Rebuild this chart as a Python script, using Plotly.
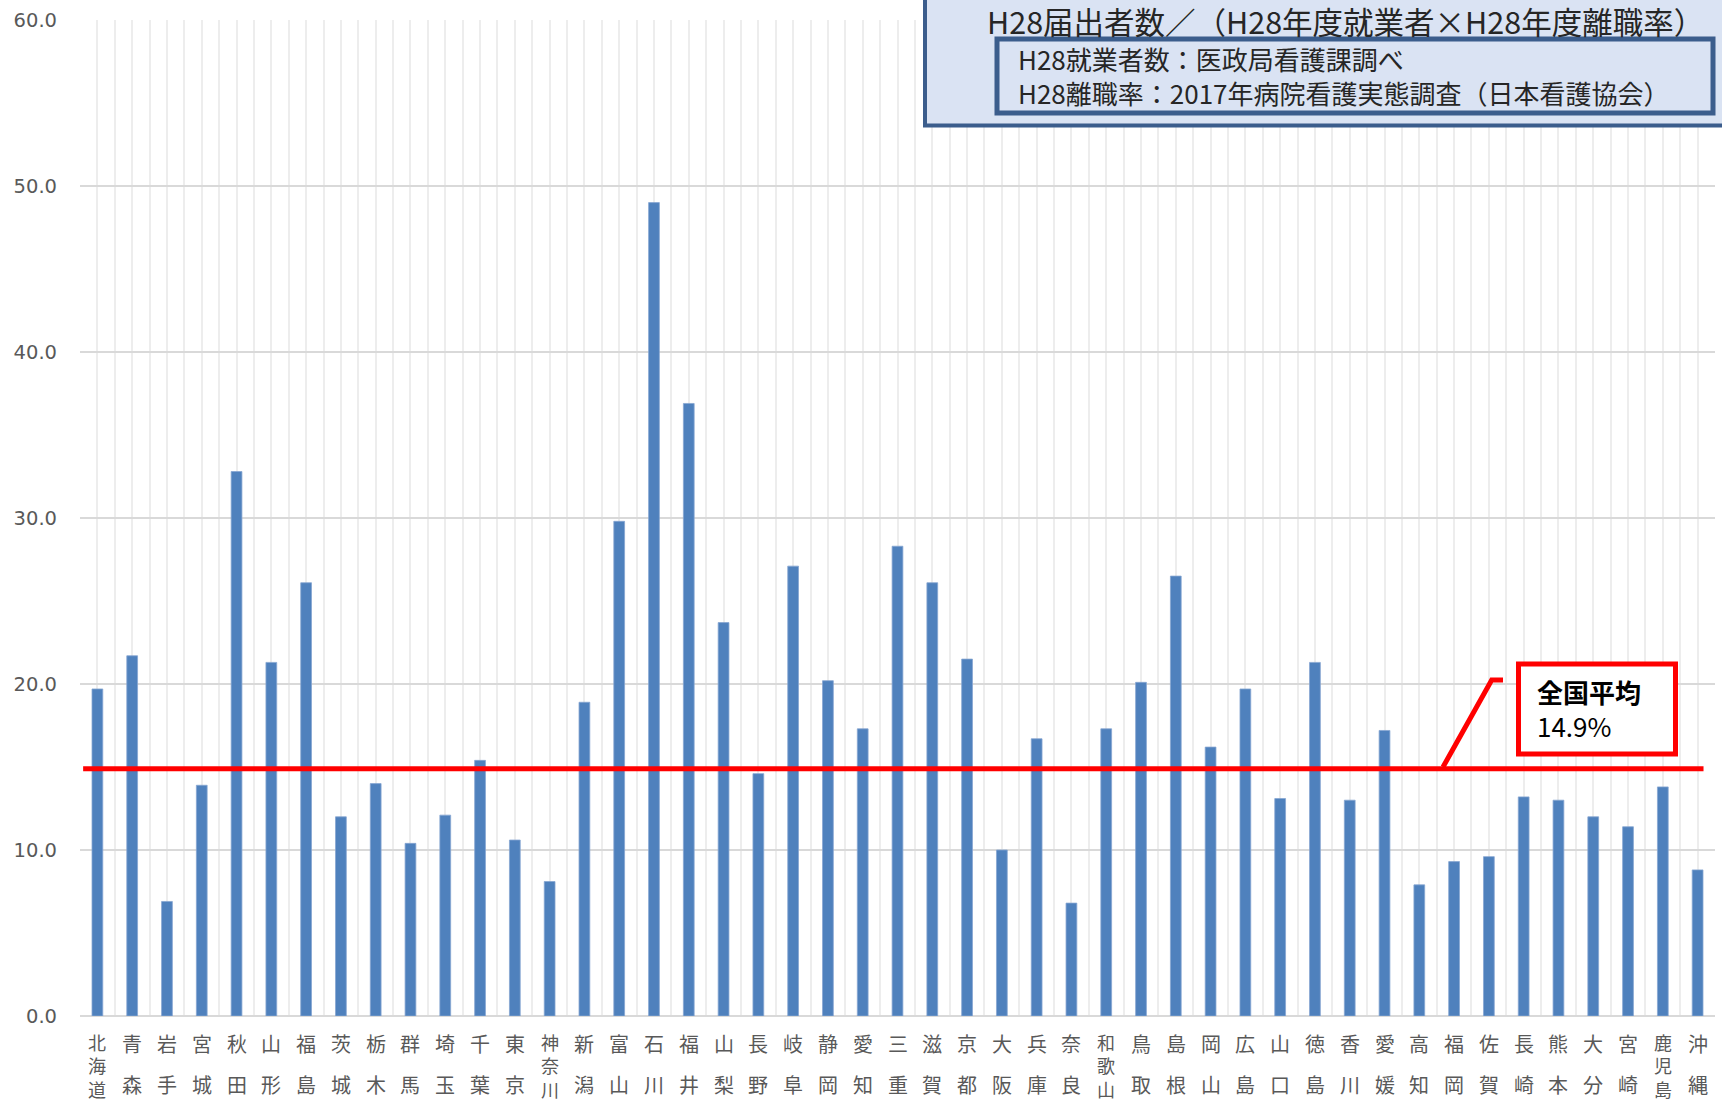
import plotly.graph_objects as go

# ---------------- data ----------------
prefectures = [
    "北海道", "青森", "岩手", "宮城", "秋田", "山形", "福島", "茨城", "栃木", "群馬",
    "埼玉", "千葉", "東京", "神奈川", "新潟", "富山", "石川", "福井", "山梨", "長野",
    "岐阜", "静岡", "愛知", "三重", "滋賀", "京都", "大阪", "兵庫", "奈良", "和歌山",
    "鳥取", "島根", "岡山", "広島", "山口", "徳島", "香川", "愛媛", "高知", "福岡",
    "佐賀", "長崎", "熊本", "大分", "宮崎", "鹿児島", "沖縄",
]
values = [
    19.7, 21.7, 6.9, 13.9, 32.8, 21.3, 26.1, 12.0, 14.0, 10.4,
    12.1, 15.4, 10.6, 8.1, 18.9, 29.8, 49.0, 36.9, 23.7, 14.6,
    27.1, 20.2, 17.3, 28.3, 26.1, 21.5, 10.0, 16.7, 6.8, 17.3,
    20.1, 26.5, 16.2, 19.7, 13.1, 21.3, 13.0, 17.2, 7.9, 9.3,
    9.6, 13.2, 13.0, 12.0, 11.4, 13.8, 8.8,
]
national_avg = 14.9
y_ticks = [0, 10, 20, 30, 40, 50, 60]

title_text = "H28届出者数／（H28年度就業者×H28年度離職率）"
source_lines = ["H28就業者数：医政局看護課調べ", "H28離職率：2017年病院看護実態調査（日本看護協会）"]
avg_label = "全国平均"
avg_value_text = "14.9%"

# ---------------- figure ----------------
W, H = 1722, 1103
ML, MR, MT, MB = 80, 7, 20, 87
PW, PH = W - ML - MR, H - MT - MB

def px_x(p):
    return (p - ML) / PW

def px_y(p):
    return (H - MB - p) / PH

n = len(prefectures)
xs = list(range(n))

fig = go.Figure()
fig.add_trace(go.Bar(
    x=xs, y=values, width=0.31,
    marker=dict(color="#4F81BD", line=dict(color="#86A6D2", width=0.8)),
    hoverinfo="skip", showlegend=False,
))

GRAY_TXT = "#595959"
JP = "Noto Sans CJK JP"

annotations = []
# category labels, stacked vertically
for i, name in enumerate(prefectures):
    if len(name) == 3:
        annotations.append(dict(
            x=i, xref="x", y=0, yref="paper", yanchor="middle", xanchor="center",
            yshift=-49.5, text="<br>".join(name), showarrow=False,
            font=dict(family=JP, size=18, color=GRAY_TXT),
        ))
    else:
        for ch, off in zip(name, [27.5, 68]):
            annotations.append(dict(
                x=i, xref="x", y=0, yref="paper", yanchor="middle", xanchor="center",
                yshift=-off, text=ch, showarrow=False,
                font=dict(family=JP, size=20, color=GRAY_TXT),
            ))

# header box texts
annotations.append(dict(
    x=px_x(1345), xref="paper", y=px_y(21), yref="paper",
    xanchor="center", yanchor="middle", text=title_text, showarrow=False,
    font=dict(family=JP, size=30.5, color="#262626"),
))
annotations.append(dict(
    x=px_x(1016), xref="paper", y=px_y(75), yref="paper",
    xanchor="left", yanchor="middle", align="left",
    text="<br>".join(source_lines), showarrow=False,
    font=dict(family=JP, size=26, color="#262626"),
))
# national average callout text
annotations.append(dict(
    x=px_x(1535), xref="paper", y=px_y(709), yref="paper",
    xanchor="left", yanchor="middle", align="left",
    text="<b>" + avg_label + "</b><br>" + avg_value_text, showarrow=False,
    font=dict(family=JP, size=26, color="#000000"),
))

shapes = [
    # outer header box
    dict(type="rect", xref="paper", yref="paper",
         x0=px_x(925), x1=px_x(1760), y0=px_y(125.5), y1=px_y(-20),
         fillcolor="#DAE3F3", line=dict(color="#3B5D8C", width=4), layer="above"),
    # inner header box
    dict(type="rect", xref="paper", yref="paper",
         x0=px_x(997), x1=px_x(1713), y0=px_y(113), y1=px_y(39),
         fillcolor="#DAE3F3", line=dict(color="#3B5D8C", width=5), layer="above"),
    # national average line
    dict(type="line", xref="x", yref="y",
         x0=-0.41, x1=46.17, y0=national_avg, y1=national_avg,
         line=dict(color="#FF0000", width=5), layer="above"),
    # callout leader
    dict(type="path", xref="paper", yref="paper",
         path="M {:.5f},{:.5f} L {:.5f},{:.5f} L {:.5f},{:.5f}".format(
             px_x(1443), px_y(767), px_x(1491.7), px_y(680), px_x(1503), px_y(680)),
         line=dict(color="#FF0000", width=5), layer="above"),
    # callout box
    dict(type="rect", xref="paper", yref="paper",
         x0=px_x(1518.5), x1=px_x(1675.5), y0=px_y(754), y1=px_y(664),
         fillcolor="#FFFFFF", line=dict(color="#FF0000", width=5), layer="above"),
]

fig.update_layout(
    width=W, height=H,
    margin=dict(l=ML, r=MR, t=MT, b=MB, pad=0),
    paper_bgcolor="#FFFFFF", plot_bgcolor="#FFFFFF",
    bargap=0.69,
    annotations=annotations,
    shapes=shapes,
    showlegend=False,
)
fig.update_xaxes(
    type="linear", range=[-0.5, n - 0.5],
    tickmode="array", tickvals=xs, showticklabels=False, ticks="",
    showgrid=True, gridcolor="#EDEDED", gridwidth=2,
    minor=dict(tickmode="array", tickvals=[i - 0.5 for i in range(n + 1)],
               showgrid=True, gridcolor="#EDEDED", gridwidth=2, ticks=""),
    showline=False, zeroline=False, fixedrange=True,
)
fig.update_yaxes(
    range=[0, 60], tickmode="array", tickvals=y_ticks, tickformat=".1f",
    showgrid=True, gridcolor="#D9D9D9", gridwidth=2,
    zeroline=True, zerolinecolor="#D9D9D9", zerolinewidth=2,
    showline=False, ticks="", ticklabelstandoff=22,
    tickfont=dict(family="DejaVu Sans", size=19.5, color=GRAY_TXT),
    fixedrange=True,
)

fig.write_html("out.html", config={"displayModeBar": False},
               post_script="document.body.style.margin='0';document.body.style.overflow='hidden';")
